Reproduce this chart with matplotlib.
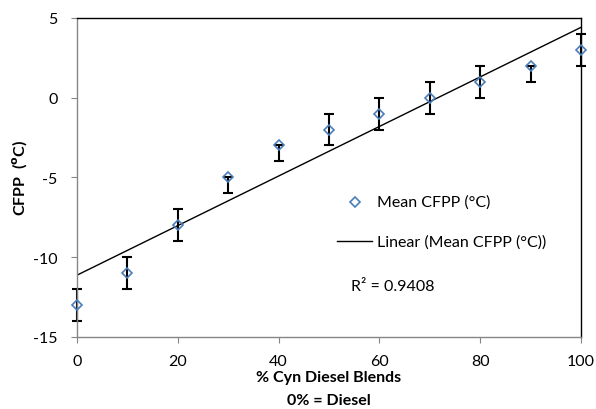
import numpy as np
import matplotlib.pyplot as plt

# blend percentage and mean CFPP readings
blend = [0, 10, 20, 30, 40, 50, 60, 70, 80, 90, 100]
cfpp = [-13, -11, -8, -5, -3, -2, -1, 0, 1, 2, 3]
err_low = [1, 1, 1, 1, 1, 1, 1, 1, 1, 1, 1]
err_high = [1, 1, 1, 0, 0, 1, 1, 1, 1, 0, 1]

plt.rcParams['font.family'] = ['Lato', 'DejaVu Sans']
plt.rcParams['axes.unicode_minus'] = False

fig = plt.figure(figsize=(5.96, 4.10), dpi=100)
ax = fig.add_axes([0.129, 0.176, 0.846, 0.778])

x = np.array(blend, dtype=float)
y = np.array(cfpp, dtype=float)

# linear trendline
slope, icpt = np.polyfit(x, y, 1)
pred = slope * x + icpt
r2 = 1 - np.sum((y - pred) ** 2) / np.sum((y - y.mean()) ** 2)
xl = np.array([0, 100])

ax.errorbar(x, y, yerr=[err_low, err_high], fmt='none', ecolor='black',
            elinewidth=1.5, capsize=3.5, capthick=1.5, zorder=2, clip_on=False)
ax.plot(x, y, linestyle='none', marker='D', ms=5.5, mfc='none', mec='#4a7ebb',
        mew=1.2, zorder=3, clip_on=False)
ax.plot(xl, slope * xl + icpt, color='black', lw=1.0, zorder=2)

ax.set_xlim(0, 100)
ax.set_ylim(-15, 5)
ax.set_xticks(range(0, 101, 20))
ax.set_yticks(range(-15, 6, 5))

for s in ['left', 'bottom']:
    ax.spines[s].set_color('#868686')
    ax.spines[s].set_linewidth(1.0)
for s in ['top', 'right']:
    ax.spines[s].set_color('black')
    ax.spines[s].set_linewidth(1.0)
ax.tick_params(axis='both', direction='out', length=4, color='#868686',
               labelsize=11.5)
ax.tick_params(axis='x', pad=8)
ax.tick_params(axis='y', pad=10)

fig.text(20 / 596, 1 - 178 / 410, 'CFPP  ($^{\\mathbf{o}}$C)', fontsize=11.5,
         fontweight='bold', rotation=90, ha='center', va='center')
fig.text(329 / 596, 1 - 378 / 410, '% Cyn Diesel Blends', fontsize=11.5,
         fontweight='bold', ha='center', va='center')
fig.text(329 / 596, 1 - 401 / 410, '0% = Diesel', fontsize=11.5,
         fontweight='bold', ha='center', va='center')

# legend drawn by hand to match the spreadsheet layout
ax.plot([55.2], [-6.52], linestyle='none', marker='D', ms=5.5,
        mfc='none', mec='#4a7ebb', mew=1.2)
ax.text(59.5, -6.52, 'Mean CFPP (°C)', fontsize=11.5, va='center')
ax.plot([51.6, 58.6], [-9.02, -9.02], color='black', lw=1.0)
ax.text(59.5, -9.02, 'Linear (Mean CFPP (°C))', fontsize=11.5, va='center')
ax.text(54.4, -11.84, 'R² = %.4f' % r2, fontsize=11.5, va='center')

fig.savefig('out.png', dpi=100)
